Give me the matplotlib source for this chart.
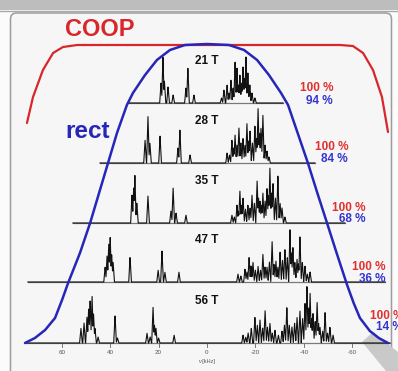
import numpy as np
import matplotlib.pyplot as plt
from matplotlib.patches import FancyBboxPatch, Polygon, Rectangle

plt.rcParams['font.family'] = ['Liberation Sans', 'DejaVu Sans']

# field strengths, bottom offsets (px above the axis) and baseline extents (kHz)
fields = ['21 T', '28 T', '35 T', '47 T', '56 T']
offsets = [240, 180, 120, 61, 0]
spans = [(32.6, -31.4), (44.2, -44.6), (55.4, -57.0), (74.0, -73.6), (75.2, -75.6)]

# peak lists: (position kHz, height px)
peaks_21 = [(19.0, 20), (18.2, 46), (17.6, 22), (16.1, 16), (14.0, 8), (8.7, 15), (7.9, 35), (5.4, 8),
            (-6.0, 5), (-7.0, 13), (-8.3, 18), (-9.1, 10), (-9.9, 23), (-10.8, 15), (-11.6, 41),
            (-12.4, 35), (-13.0, 18), (-13.6, 28), (-14.3, 20), (-14.9, 36), (-15.5, 25), (-16.1, 46),
            (-16.9, 30), (-17.7, 18), (-18.6, 10), (-19.8, 5)]
peaks_28 = [(25.6, 23), (24.4, 47), (23.6, 20), (19.4, 27), (12.0, 15), (11.2, 33), (7.0, 8),
            (-8.3, 10), (-9.3, 8), (-10.3, 23), (-11.0, 15), (-11.6, 28), (-12.4, 18), (-13.2, 35),
            (-14.0, 20), (-14.9, 25), (-15.7, 18), (-16.5, 40), (-17.2, 22), (-17.8, 32), (-18.8, 20),
            (-19.8, 37), (-20.5, 25), (-21.1, 55), (-21.7, 30), (-22.3, 35), (-23.1, 48), (-24.0, 18),
            (-24.8, 12), (-25.6, 6)]
peaks_35 = [(31.0, 28), (30.3, 35), (29.8, 48), (29.0, 20), (24.4, 27), (14.9, 12), (14.0, 35),
            (12.8, 10), (8.7, 8),
            (-10.3, 8), (-11.3, 6), (-12.4, 18), (-13.0, 12), (-13.6, 32), (-14.3, 18), (-14.9, 25),
            (-15.9, 14), (-16.9, 18), (-17.8, 15), (-18.6, 28), (-19.6, 20), (-20.7, 43), (-21.3, 25),
            (-21.9, 22), (-22.5, 18), (-23.1, 30), (-24.0, 22), (-24.8, 35), (-25.4, 28), (-26.0, 55),
            (-26.7, 30), (-27.3, 40), (-28.3, 25), (-29.3, 48), (-30.2, 20), (-31.0, 15), (-32.2, 6)]
peaks_47 = [(42.1, 15), (41.3, 26), (40.6, 38), (40.0, 45), (39.4, 28), (38.8, 20), (31.8, 25),
            (20.2, 12), (18.6, 31), (17.4, 10), (11.6, 10),
            (-12.8, 8), (-14.0, 6), (-15.7, 13), (-16.5, 10), (-17.4, 25), (-18.2, 16), (-19.0, 20),
            (-20.0, 12), (-21.1, 16), (-22.1, 12), (-23.1, 28), (-24.0, 15), (-24.8, 15), (-25.8, 20),
            (-26.9, 41), (-27.7, 18), (-28.5, 21), (-29.3, 15), (-30.2, 30), (-31.2, 22), (-32.2, 33),
            (-33.2, 25), (-34.3, 53), (-34.9, 30), (-35.5, 35), (-36.3, 20), (-37.2, 23), (-37.8, 18),
            (-38.4, 46), (-39.4, 20), (-40.5, 16), (-41.5, 8), (-42.6, 10)]
peaks_56 = [(52.1, 15), (50.8, 20), (49.6, 26), (48.9, 35), (48.3, 43), (47.5, 48), (46.9, 30),
            (46.3, 15), (45.0, 6), (38.0, 28), (37.0, 5), (24.8, 10), (23.5, 6), (22.3, 36), (21.7, 18),
            (21.1, 15), (20.0, 5), (13.6, 8),
            (-14.9, 8), (-16.0, 6), (-17.0, 10), (-18.3, 15), (-19.8, 26), (-20.8, 18), (-21.9, 23),
            (-23.0, 15), (-24.0, 33), (-25.0, 16), (-26.0, 20), (-27.0, 10), (-28.1, 13), (-29.5, 8),
            (-31.0, 12), (-32.0, 18), (-33.0, 36), (-34.0, 18), (-35.1, 16), (-36.2, 20), (-37.2, 26),
            (-38.4, 33), (-39.5, 25), (-40.5, 40), (-41.3, 58), (-42.0, 35), (-42.6, 50), (-43.2, 25),
            (-43.8, 30), (-44.7, 22), (-45.5, 41), (-46.1, 20), (-46.7, 16), (-47.8, 12), (-48.8, 31),
            (-49.8, 10), (-50.8, 16), (-52.1, 8)]
spectra = [peaks_21, peaks_28, peaks_35, peaks_47, peaks_56]

# excitation profiles (kHz, px above axis)
coop_x = [74.4, 71.9, 67.8, 63.6, 59.5, 53.7, 0.0, -55.0, -60.3, -64.5, -68.6, -72.3, -74.8]
coop_y = [220, 246, 273, 290, 296, 298, 298, 298, 297, 290, 273, 246, 211]
rect_x = [75.2, 71.1, 66.9, 62.8, 59.9, 57.4, 52.5, 48.3, 44.6, 40.9, 37.2, 33.1, 30.6, 25.6,
          20.7, 15.3, 9.1, 0.0, -9.1, -15.3, -20.7, -25.6, -30.6, -33.5, -37.6, -41.7, -45.6,
          -49.6, -53.7, -57.9, -60.6, -63.2, -67.3, -71.0, -74.8]
rect_y = [0, 5, 13, 25, 43, 60, 90, 120, 150, 180, 210, 238, 250, 268, 283, 293, 298, 299, 298,
          293, 283, 268, 250, 238, 209, 180, 150, 120, 89, 58, 40, 25, 12, 5, 0]

coop_pct = [100, 100, 100, 100, 100]
rect_pct = [94, 84, 68, 36, 14]

ticks = [60, 40, 20, 0, -20, -40, -60]

RED = '#d8262a'
BLUE = '#2626b8'

fig = plt.figure(figsize=(3.98, 3.71), dpi=100)

# decoration layer in pixel coords
bg = fig.add_axes([0, 0, 1, 1])
bg.set_xlim(0, 398)
bg.set_ylim(371, 0)
bg.axis('off')
fig.patch.set_facecolor('#fbfbfb')
bg.add_patch(Rectangle((0, 0), 398, 10, facecolor='#bdbdbd', edgecolor='none'))
bg.plot([0, 398], [10.5, 10.5], color='#a8a8a8', lw=1)
bg.add_patch(FancyBboxPatch((10.5, 13), 381, 380, boxstyle='round,pad=0,rounding_size=6',
                            facecolor='#f6f6f6', edgecolor='#9c9c9c', lw=1.1))
bg.add_patch(Polygon([(362, 342), (373, 332), (398, 352), (398, 371), (386, 371)],
                     closed=True, facecolor='#c9c9c9', edgecolor='none'))

# main axes in kHz / px-height
ax = fig.add_axes([0, 0, 1, 1])
ax.patch.set_alpha(0)
ax.set_xlim(85.54, -78.93)
ax.set_ylim(-28, 343)
ax.axis('off')

hw = 0.55
for label, off, (x0, x1), pk in zip(fields, offsets, spans, spectra):
    x = np.linspace(x0, x1, 4000)
    y = np.zeros_like(x)
    for c, h in pk:
        y = np.maximum(y, h * np.clip(1 - np.abs(x - c) / hw, 0, None))
    ax.plot([x0, x1], [off, off], color='#7a7a7a', lw=0.9, zorder=2)
    ax.plot(x, y + off, color='#111111', lw=0.8, zorder=3)
    ax.text(0, off + 42, label, ha='center', va='center', fontsize=8.5,
            fontweight='bold', color='#111111', zorder=5)

ax.plot(coop_x, coop_y, color=RED, lw=1.6, zorder=4, solid_capstyle='round')
ax.plot(rect_x, rect_y, color=BLUE, lw=1.8, zorder=4, solid_capstyle='round')

ax.text(44.2, 313, 'COOP', color=RED, fontsize=17, fontweight='bold', ha='center', va='center')
ax.text(49.5, 211, 'rect', color=BLUE, fontsize=17.5, fontweight='bold', ha='center', va='center')

# percentages
pct_x = [-52.1, -58.3, -65.3, -73.6, -81.0]
red_y = [255, 196, 135, 76, 27]
blue_y = [242, 184, 124, 64, 16]
for px, ry, by, cp, rp in zip(pct_x, red_y, blue_y, coop_pct, rect_pct):
    ax.text(px, ry, f'{cp} %', color='#e03030', fontsize=8.5, fontweight='bold',
            ha='right', va='center', zorder=6)
    ax.text(px, by, f'{rp} %', color='#3434d0', fontsize=8.5, fontweight='bold',
            ha='right', va='center', zorder=6)

# frequency axis
for t in ticks:
    ax.plot([t, t], [0, -4], color='#777777', lw=0.7)
    ax.text(t, -9.5, str(t), ha='center', va='center', fontsize=4.5, color='#555555')
ax.text(0, -19, 'ν [kHz]', ha='center', va='center', fontsize=4, color='#555555')

fig.savefig('out.png', dpi=100)
